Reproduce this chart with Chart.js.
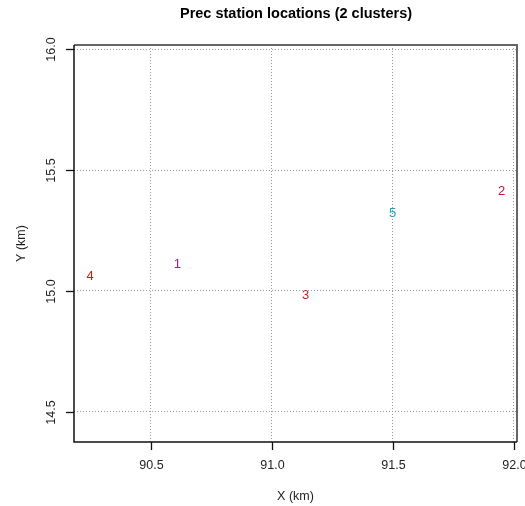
<!DOCTYPE html>
<html>
<head>
<meta charset="utf-8">
<script src="https://cdn.jsdelivr.net/npm/chart.js@4"></script>
<style>
  html, body { margin: 0; padding: 0; background: #fff; }
  #wrap { width: 525px; height: 506px; }
</style>
</head>
<body>
<div id="wrap"><canvas id="c"></canvas></div>
<script>
// === Data ===
const stationIds = ['1', '2', '3', '4', '5'];
const stationX = [90.61, 91.95, 91.14, 90.25, 91.50];
const stationY = [15.11, 15.41, 14.98, 15.06, 15.32];
const stationColors = ['#a3189f', '#b8163c', '#cc1e28', '#d01818', '#1fa6b6'];
const xTicks = [90.5, 91.0, 91.5, 92.0];
const yTicks = [14.5, 15.0, 15.5, 16.0];

const FONT = 'Liberation Sans, Arial, sans-serif';

// draws labels, ticks, axes and box in R style
const rStyle = {
  id: 'rStyle',
  afterDatasetsDraw(chart) {
    const { ctx, chartArea: a, scales: { x, y } } = chart;
    ctx.save();

    // station numbers
    ctx.font = '13px ' + FONT;
    ctx.textAlign = 'center';
    ctx.textBaseline = 'middle';
    const meta = chart.getDatasetMeta(0);
    meta.data.forEach((pt, i) => {
      ctx.fillStyle = stationColors[i];
      ctx.fillText(stationIds[i], pt.x, pt.y);
    });

    // box: top/right grey, left/bottom black
    ctx.lineWidth = 2;
    ctx.strokeStyle = '#666';
    ctx.beginPath();
    ctx.moveTo(a.left, a.top); ctx.lineTo(a.right, a.top); ctx.lineTo(a.right, a.bottom);
    ctx.stroke();
    ctx.lineWidth = 1.5;
    ctx.strokeStyle = '#111';
    ctx.beginPath();
    ctx.moveTo(a.left, a.top); ctx.lineTo(a.left, a.bottom); ctx.lineTo(a.right, a.bottom);
    ctx.stroke();

    // tick marks + labels
    ctx.lineWidth = 1.3;
    ctx.fillStyle = '#222';
    ctx.font = '12.5px ' + FONT;
    xTicks.forEach(v => {
      const px = Math.round(x.getPixelForValue(v)) + 0.5;
      ctx.beginPath(); ctx.moveTo(px, a.bottom); ctx.lineTo(px, a.bottom + 8); ctx.stroke();
      ctx.fillText(v.toFixed(1), px, 466);
    });
    yTicks.forEach(v => {
      const py = Math.round(y.getPixelForValue(v)) + 0.5;
      ctx.beginPath(); ctx.moveTo(a.left, py); ctx.lineTo(a.left - 8, py); ctx.stroke();
      ctx.save();
      ctx.translate(52, py);
      ctx.rotate(-Math.PI / 2);
      ctx.fillText(v.toFixed(1), 0, 0);
      ctx.restore();
    });

    // axis titles
    ctx.fillText('X (km)', (a.left + a.right) / 2, 497);
    ctx.save();
    ctx.translate(22, (a.top + a.bottom) / 2);
    ctx.rotate(-Math.PI / 2);
    ctx.fillText('Y (km)', 0, 0);
    ctx.restore();

    // title
    ctx.fillStyle = '#000';
    ctx.font = 'bold 14.5px ' + FONT;
    ctx.fillText('Prec station locations (2 clusters)', 296, 14);
    ctx.restore();
  }
};

const gridOpts = { color: '#999', lineWidth: 1, drawTicks: false };

new Chart(document.getElementById('c'), {
  type: 'scatter',
  data: {
    datasets: [{
      data: stationX.map((v, i) => ({ x: v, y: stationY[i] })),
      pointRadius: 0,
      pointHoverRadius: 0
    }]
  },
  options: {
    responsive: true,
    maintainAspectRatio: false,
    animation: false,
    events: [],
    layout: { padding: { top: 45, right: 8, left: 0, bottom: 0 } },
    plugins: { legend: { display: false }, title: { display: false }, tooltip: { enabled: false } },
    scales: {
      x: {
        type: 'linear', min: 90.183, max: 92.014,
        afterBuildTicks: s => { s.ticks = xTicks.map(v => ({ value: v })); },
        afterFit: s => { s.height = 64; },
        ticks: { display: false },
        grid: gridOpts,
        border: { display: false, dash: [1, 2] }
      },
      y: {
        type: 'linear', min: 14.375, max: 16.018,
        afterBuildTicks: s => { s.ticks = yTicks.map(v => ({ value: v })); },
        afterFit: s => { s.width = 74; },
        ticks: { display: false },
        grid: gridOpts,
        border: { display: false, dash: [1, 2] }
      }
    }
  },
  plugins: [rStyle]
});
</script>
</body>
</html>
